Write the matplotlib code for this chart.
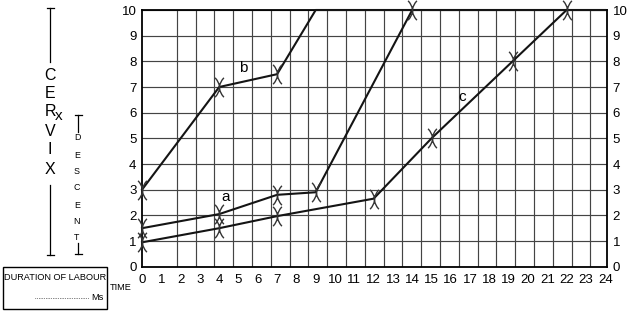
import matplotlib.pyplot as plt
from matplotlib.path import Path
from matplotlib.patches import Rectangle

plt.rcParams['font.family'] = ['Liberation Sans', 'DejaVu Sans']

# partograph curves: (hours, cervix cm)
a_hours = [0, 4, 7, 9, 14]
a_cervix = [1.5, 2.05, 2.8, 2.9, 10]
b_hours = [0, 4, 7, 9, 24]
b_cervix = [3, 7, 7.5, 10, 10]
c_hours = [0, 4, 7, 12, 15, 19.2, 22]
c_cervix = [0.95, 1.5, 1.97, 2.65, 5, 8, 10]

# where the crosses are drawn
a_marks = [0, 1, 2, 3, 4]
b_marks = [0, 1, 2]
c_marks = [0, 1, 2, 3, 4, 5, 6]

x_ticks = list(range(0, 25))
y_ticks = list(range(0, 11))

curve_labels = [('a', 4.35, 2.7), ('b', 5.25, 7.75), ('c', 16.6, 6.6)]

# the printed grid is not lined up with the hour labels
grid_x = [1.8 + 0.974 * k for k in range(23)]

cross = Path([(-0.45, 1), (0.45, 0), (-0.45, -1),
              (0.45, 1), (-0.45, 0), (0.45, -1)],
             [Path.MOVETO, Path.CURVE3, Path.CURVE3,
              Path.MOVETO, Path.CURVE3, Path.CURVE3])

fig = plt.figure(figsize=(6.27, 3.12), dpi=100)
px_per_hour = 19.3
ax = fig.add_axes([142 / 627, 45.3 / 312, 465 / 627, 256.7 / 312])

ax.set_xlim(0, 465 / px_per_hour)
ax.set_ylim(0, 10)
ax.set_xticks(x_ticks)
ax.set_yticks(y_ticks)
ax.set_xticks(grid_x, minor=True)
ax.grid(True, which='minor', axis='x', color='#444444', lw=0.85)
ax.grid(True, which='major', axis='y', color='#444444', lw=0.85)
ax.set_axisbelow(True)
ax.tick_params(which='both', length=0, labelsize=9.5, labelright=True, pad=4)
ax.tick_params(axis='x', pad=5.5)
for s in ax.spines.values():
    s.set_linewidth(1.3)

for hrs, cx, marks in [(a_hours, a_cervix, a_marks),
                       (b_hours, b_cervix, b_marks),
                       (c_hours, c_cervix, c_marks)]:
    ax.plot(hrs, cx, color='#141414', lw=1.5, clip_on=False, zorder=3)
    ax.plot([hrs[i] for i in marks], [cx[i] for i in marks], ls='none',
            marker=cross, markersize=14, mec='#333333', mfc='none', mew=1.0,
            clip_on=False, zorder=4)

for lab, x, y in curve_labels:
    ax.text(x, y, lab, fontsize=11, ha='center', va='center')

# left-hand annotation drawn in pixel coordinates
deco = fig.add_axes([0, 0, 1, 1])
deco.set_xlim(0, 627)
deco.set_ylim(312, 0)
deco.axis('off')
deco.patch.set_alpha(0)


def ibeam(x, y0, y1, top, bottom, w=7):
    deco.plot([x, x], [y0, y1], color='black', lw=0.9)
    if top:
        deco.plot([x - w / 2, x + w / 2], [y0, y0], color='black', lw=0.9)
    if bottom:
        deco.plot([x - w / 2, x + w / 2], [y1, y1], color='black', lw=0.9)


ibeam(50, 8, 62, True, False)
ibeam(50, 185, 255, False, True)
ibeam(78, 115, 132, True, False)
ibeam(78, 243, 254, False, True)

for ch, y in zip('CERVIX', [75, 93, 111, 131, 150, 169]):
    deco.text(50, y, ch, fontsize=11.5, ha='center', va='center')
deco.text(59, 116, 'x', fontsize=11, ha='center', va='center')

for ch, y in zip('DESCENT', [137, 155, 171, 188, 205, 221, 238]):
    deco.text(77, y, ch, fontsize=6.4, ha='center', va='center')

deco.add_patch(Rectangle((3, 266.5), 104, 42.5, fill=False, lw=1, ec='black'))
deco.text(55, 278, 'DURATION OF LABOUR', fontsize=6.6, ha='center', va='center')
deco.plot([35, 89], [298, 298], color='#333333', lw=0.7, ls=(0, (0.6, 1.2)))
deco.text(104, 297.5, 'Ms', fontsize=6.6, ha='right', va='center')
deco.text(110, 288, 'TIME', fontsize=6.6, ha='left', va='center')

fig.savefig('out.png', dpi=100)
